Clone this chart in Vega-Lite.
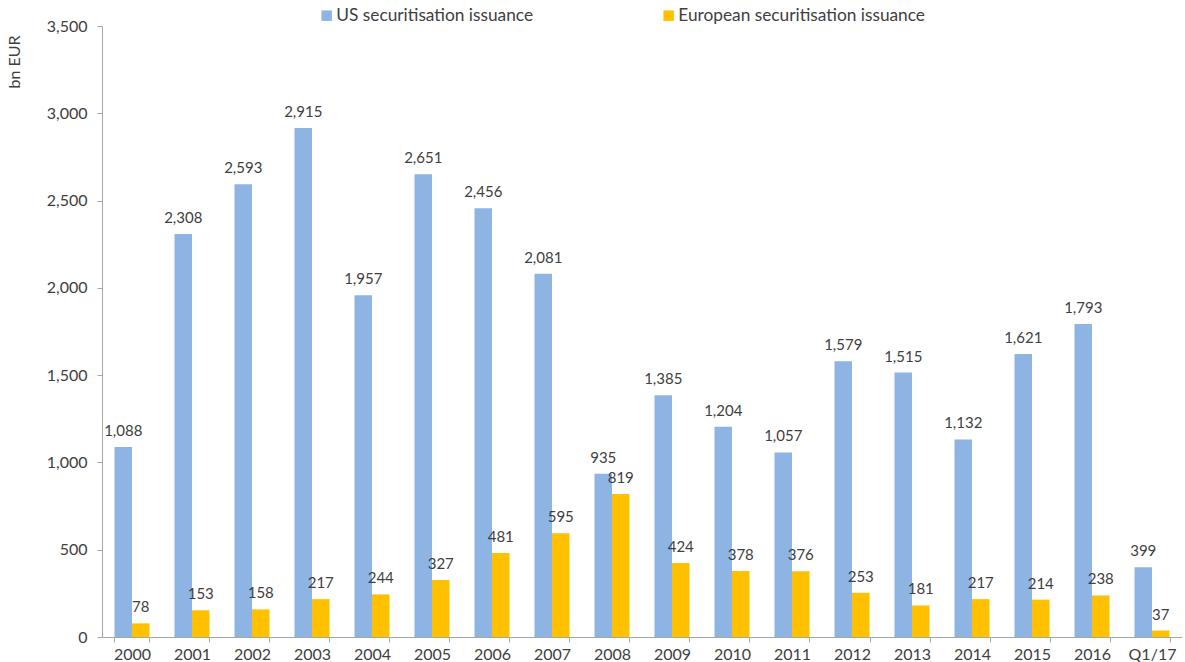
{
  "$schema": "https://vega.github.io/schema/vega-lite/v6.json",
  "autosize": {"type": "none"},
  "width": 1080,
  "height": 611,
  "padding": {"left": 102, "top": 26, "right": 3, "bottom": 25},
  "background": "white",
  "config": {
    "view": {"stroke": null},
    "font": "Lato",
    "axis": {"labelFont": "Lato", "labelColor": "#404040", "labelFontSize": 16, "domainColor": "#A6A6A6", "tickColor": "#A6A6A6", "grid": false, "titleFont": "Lato", "titleColor": "#404040", "titleFontWeight": "normal"}
  },
  "data": {
    "values": [
      {"year": "2000", "series": "US securitisation issuance", "value": 1088},
      {"year": "2001", "series": "US securitisation issuance", "value": 2308},
      {"year": "2002", "series": "US securitisation issuance", "value": 2593},
      {"year": "2003", "series": "US securitisation issuance", "value": 2915},
      {"year": "2004", "series": "US securitisation issuance", "value": 1957},
      {"year": "2005", "series": "US securitisation issuance", "value": 2651},
      {"year": "2006", "series": "US securitisation issuance", "value": 2456},
      {"year": "2007", "series": "US securitisation issuance", "value": 2081},
      {"year": "2008", "series": "US securitisation issuance", "value": 935},
      {"year": "2009", "series": "US securitisation issuance", "value": 1385},
      {"year": "2010", "series": "US securitisation issuance", "value": 1204},
      {"year": "2011", "series": "US securitisation issuance", "value": 1057},
      {"year": "2012", "series": "US securitisation issuance", "value": 1579},
      {"year": "2013", "series": "US securitisation issuance", "value": 1515},
      {"year": "2014", "series": "US securitisation issuance", "value": 1132},
      {"year": "2015", "series": "US securitisation issuance", "value": 1621},
      {"year": "2016", "series": "US securitisation issuance", "value": 1793},
      {"year": "Q1/17", "series": "US securitisation issuance", "value": 399},
      {"year": "2000", "series": "European securitisation issuance", "value": 78},
      {"year": "2001", "series": "European securitisation issuance", "value": 153},
      {"year": "2002", "series": "European securitisation issuance", "value": 158},
      {"year": "2003", "series": "European securitisation issuance", "value": 217},
      {"year": "2004", "series": "European securitisation issuance", "value": 244},
      {"year": "2005", "series": "European securitisation issuance", "value": 327},
      {"year": "2006", "series": "European securitisation issuance", "value": 481},
      {"year": "2007", "series": "European securitisation issuance", "value": 595},
      {"year": "2008", "series": "European securitisation issuance", "value": 819},
      {"year": "2009", "series": "European securitisation issuance", "value": 424},
      {"year": "2010", "series": "European securitisation issuance", "value": 378},
      {"year": "2011", "series": "European securitisation issuance", "value": 376},
      {"year": "2012", "series": "European securitisation issuance", "value": 253},
      {"year": "2013", "series": "European securitisation issuance", "value": 181},
      {"year": "2014", "series": "European securitisation issuance", "value": 217},
      {"year": "2015", "series": "European securitisation issuance", "value": 214},
      {"year": "2016", "series": "European securitisation issuance", "value": 238},
      {"year": "Q1/17", "series": "European securitisation issuance", "value": 37}
    ]
  },
  "encoding": {
    "x": {
      "field": "year", "type": "nominal", "sort": null,
      "scale": {"paddingInner": 0.4167, "paddingOuter": 0.2083},
      "axis": {"title": null, "labelAngle": 0, "tickBand": "extent", "tickSize": 5, "labelPadding": 4}
    },
    "xOffset": {
      "field": "series", "type": "nominal",
      "sort": ["US securitisation issuance", "European securitisation issuance"],
      "scale": {"paddingInner": 0, "paddingOuter": 0}
    },
    "y": {
      "field": "value", "type": "quantitative",
      "scale": {"domain": [0, 3500], "nice": false},
      "axis": {"values": [0, 500, 1000, 1500, 2000, 2500, 3000, 3500], "format": ",.0f", "tickSize": 5, "labelPadding": 10, "title": "bn EUR", "titleFontSize": 16, "titleAngle": -90, "titleX": -88, "titleY": 9, "titleAlign": "right", "titleBaseline": "middle"}
    }
  },
  "layer": [
    {
      "mark": {"type": "bar"},
      "encoding": {
        "color": {
          "field": "series", "type": "nominal",
          "sort": ["US securitisation issuance", "European securitisation issuance"],
          "scale": {"domain": ["US securitisation issuance", "European securitisation issuance"], "range": ["#8EB4E3", "#FFC000"]},
          "legend": {"title": null, "orient": "none", "legendX": 216, "legendY": -19, "direction": "horizontal", "symbolType": "square", "symbolSize": 110, "symbolStrokeWidth": 0, "labelFontSize": 17.3, "labelColor": "#404040", "labelFont": "Lato", "columnPadding": 126, "labelLimit": 400, "labelOffset": 1}
        }
      }
    },
    {
      "mark": {"type": "text", "baseline": "bottom", "dy": -8, "fontSize": 15, "color": "#404040", "font": "Lato"},
      "encoding": {
        "text": {"field": "value", "type": "quantitative", "format": ",.0f"}
      }
    }
  ]
}
